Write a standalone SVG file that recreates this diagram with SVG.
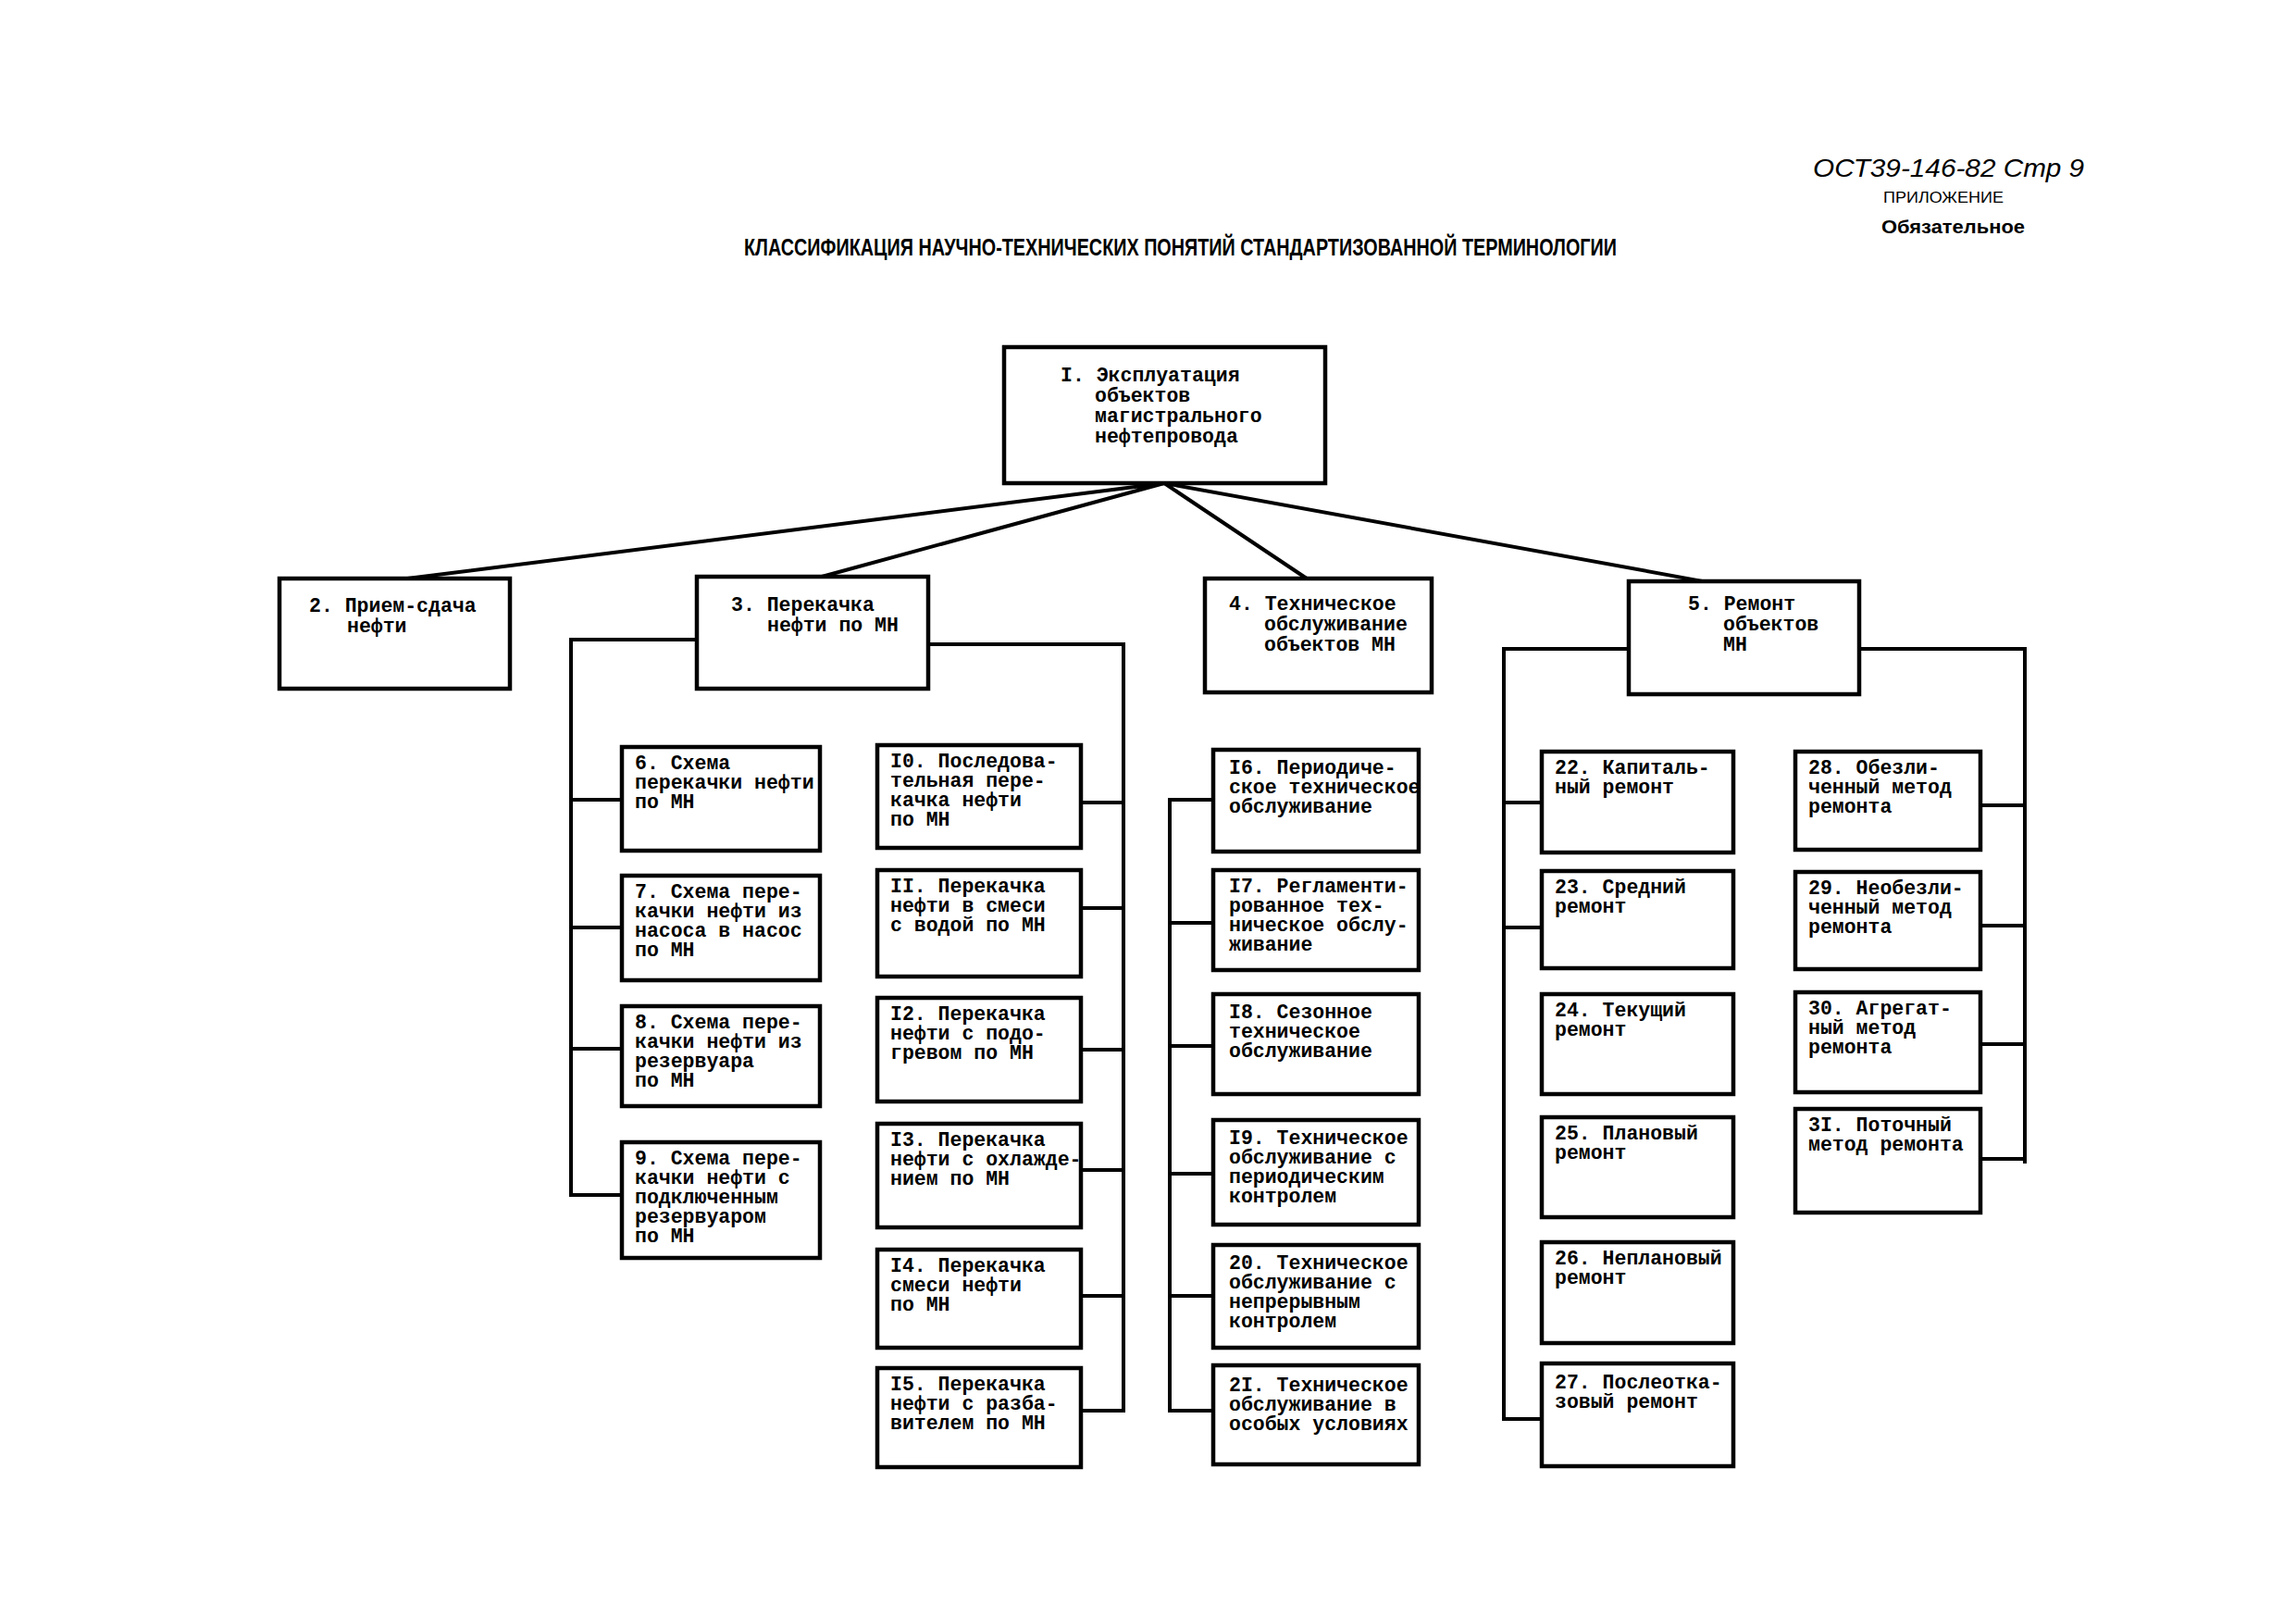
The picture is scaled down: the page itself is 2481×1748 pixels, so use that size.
<svg xmlns="http://www.w3.org/2000/svg" width="2481" height="1748" viewBox="0 0 2481 1748">
<style>
.bg{fill:#fff}
.box{fill:#fff;stroke:#000;stroke-width:4.5}
.c{stroke:#000;stroke-width:4;fill:none;stroke-linecap:square}
.t{font-family:"Liberation Mono","DejaVu Sans Mono",monospace;font-weight:bold;font-size:21.5px;fill:#000}
.h{font-family:"Liberation Sans",Arial,sans-serif;fill:#000}
</style>
<rect class="bg" x="0" y="0" width="2481" height="1748"/>
<g id="header">
<text class="h" x="1959" y="191" font-size="28" font-style="italic" textLength="293" lengthAdjust="spacingAndGlyphs">ОСТ39-146-82 Стр 9</text>
<text class="h" x="2035" y="219" font-size="16" fill="#555" textLength="130" lengthAdjust="spacingAndGlyphs">ПРИЛОЖЕНИЕ</text>
<text class="h" x="2033" y="252" font-size="21" font-weight="bold" textLength="155" lengthAdjust="spacingAndGlyphs">Обязательное</text>
<text class="h" x="804" y="276" font-size="25" font-weight="bold" textLength="943" lengthAdjust="spacingAndGlyphs">КЛАССИФИКАЦИЯ  НАУЧНО-ТЕХНИЧЕСКИХ ПОНЯТИЙ СТАНДАРТИЗОВАННОЙ ТЕРМИНОЛОГИИ</text>
</g>
<g id="connectors">
<path class="c" d="M1258,522 L440,625 M1258,522 L888,623 M1258,522 L1412,625 M1258,522 L1840,628"/>
<path class="c" d="M753,691 H617 V1291 M617,864 H672 M617,1002 H672 M617,1133 H672 M617,1291 H672"/>
<path class="c" d="M1003,696 H1214 V1524 M1214,867 H1168 M1214,981 H1168 M1214,1134 H1168 M1214,1264 H1168 M1214,1400 H1168 M1214,1524 H1168"/>
<path class="c" d="M1264,864 V1524 M1264,864 H1311 M1264,997 H1311 M1264,1130 H1311 M1264,1268 H1311 M1264,1400 H1311 M1264,1524 H1311"/>
<path class="c" d="M1760,701 H1625 V1533 M1625,867 H1666 M1625,1002 H1666 M1625,1533 H1666"/>
<path class="c" d="M2009,701 H2188 V1255 M2188,870 H2140 M2188,1000 H2140 M2188,1128 H2140 M2188,1252 H2140"/>
</g>
<g id="n1"><rect class="box" x="1085" y="375" width="347" height="147"/>
<text class="t"><tspan x="1146" y="412">I. Эксплуатация</tspan><tspan x="1183" y="434">объектов</tspan><tspan x="1183" y="456">магистрального</tspan><tspan x="1183" y="478">нефтепровода</tspan></text></g>
<g id="n2"><rect class="box" x="302" y="625" width="249" height="119"/>
<text class="t"><tspan x="334" y="661">2. Прием-сдача</tspan><tspan x="375" y="683">нефти</tspan></text></g>
<g id="n3"><rect class="box" x="753" y="623" width="250" height="121"/>
<text class="t"><tspan x="790" y="660">3. Перекачка</tspan><tspan x="829" y="682">нефти по МН</tspan></text></g>
<g id="n4"><rect class="box" x="1302" y="625" width="245" height="123"/>
<text class="t"><tspan x="1328" y="659">4. Техническое</tspan><tspan x="1366" y="681">обслуживание</tspan><tspan x="1366" y="703">объектов МН</tspan></text></g>
<g id="n5"><rect class="box" x="1760" y="628" width="249" height="122"/>
<text class="t"><tspan x="1824" y="659">5. Ремонт</tspan><tspan x="1862" y="681">объектов</tspan><tspan x="1862" y="703">МН</tspan></text></g>

<g id="n6"><rect class="box" x="672" y="807" width="214" height="112"/>
<text class="t"><tspan x="686" y="831">6. Схема</tspan><tspan x="686" y="852">перекачки нефти</tspan><tspan x="686" y="873">по МН</tspan></text></g>
<g id="n7"><rect class="box" x="672" y="946" width="214" height="113"/>
<text class="t"><tspan x="686" y="970">7. Схема пере-</tspan><tspan x="686" y="991">качки нефти из</tspan><tspan x="686" y="1012">насоса в насос</tspan><tspan x="686" y="1033">по МН</tspan></text></g>
<g id="n8"><rect class="box" x="672" y="1087" width="214" height="108"/>
<text class="t"><tspan x="686" y="1111">8. Схема пере-</tspan><tspan x="686" y="1132">качки нефти из</tspan><tspan x="686" y="1153">резервуара</tspan><tspan x="686" y="1174">по МН</tspan></text></g>
<g id="n9"><rect class="box" x="672" y="1234" width="214" height="125"/>
<text class="t"><tspan x="686" y="1258">9. Схема пере-</tspan><tspan x="686" y="1279">качки нефти с</tspan><tspan x="686" y="1300">подключенным</tspan><tspan x="686" y="1321">резервуаром</tspan><tspan x="686" y="1342">по МН</tspan></text></g>

<g id="n10"><rect class="box" x="948" y="805" width="220" height="111"/>
<text class="t"><tspan x="962" y="829">I0. Последова-</tspan><tspan x="962" y="850">тельная пере-</tspan><tspan x="962" y="871">качка нефти</tspan><tspan x="962" y="892">по МН</tspan></text></g>
<g id="n11"><rect class="box" x="948" y="940" width="220" height="115"/>
<text class="t"><tspan x="962" y="964">II. Перекачка</tspan><tspan x="962" y="985">нефти в смеси</tspan><tspan x="962" y="1006">с водой по МН</tspan></text></g>
<g id="n12"><rect class="box" x="948" y="1078" width="220" height="112"/>
<text class="t"><tspan x="962" y="1102">I2. Перекачка</tspan><tspan x="962" y="1123">нефти с подо-</tspan><tspan x="962" y="1144">гревом по МН</tspan></text></g>
<g id="n13"><rect class="box" x="948" y="1214" width="220" height="112"/>
<text class="t"><tspan x="962" y="1238">I3. Перекачка</tspan><tspan x="962" y="1259">нефти с охлажде-</tspan><tspan x="962" y="1280">нием по МН</tspan></text></g>
<g id="n14"><rect class="box" x="948" y="1350" width="220" height="106"/>
<text class="t"><tspan x="962" y="1374">I4. Перекачка</tspan><tspan x="962" y="1395">смеси нефти</tspan><tspan x="962" y="1416">по МН</tspan></text></g>
<g id="n15"><rect class="box" x="948" y="1478" width="220" height="107"/>
<text class="t"><tspan x="962" y="1502">I5. Перекачка</tspan><tspan x="962" y="1523">нефти с разба-</tspan><tspan x="962" y="1544">вителем по МН</tspan></text></g>

<g id="n16"><rect class="box" x="1311" y="810" width="222" height="110"/>
<text class="t"><tspan x="1328" y="836">I6. Периодиче-</tspan><tspan x="1328" y="857">ское техническое</tspan><tspan x="1328" y="878">обслуживание</tspan></text></g>
<g id="n17"><rect class="box" x="1311" y="940" width="222" height="108"/>
<text class="t"><tspan x="1328" y="964">I7. Регламенти-</tspan><tspan x="1328" y="985">рованное тех-</tspan><tspan x="1328" y="1006">ническое обслу-</tspan><tspan x="1328" y="1027">живание</tspan></text></g>
<g id="n18"><rect class="box" x="1311" y="1074" width="222" height="108"/>
<text class="t"><tspan x="1328" y="1100">I8. Сезонное</tspan><tspan x="1328" y="1121">техническое</tspan><tspan x="1328" y="1142">обслуживание</tspan></text></g>
<g id="n19"><rect class="box" x="1311" y="1210" width="222" height="113"/>
<text class="t"><tspan x="1328" y="1236">I9. Техническое</tspan><tspan x="1328" y="1257">обслуживание с</tspan><tspan x="1328" y="1278">периодическим</tspan><tspan x="1328" y="1299">контролем</tspan></text></g>
<g id="n20"><rect class="box" x="1311" y="1345" width="222" height="111"/>
<text class="t"><tspan x="1328" y="1371">20. Техническое</tspan><tspan x="1328" y="1392">обслуживание с</tspan><tspan x="1328" y="1413">непрерывным</tspan><tspan x="1328" y="1434">контролем</tspan></text></g>
<g id="n21"><rect class="box" x="1311" y="1475" width="222" height="107"/>
<text class="t"><tspan x="1328" y="1503">2I. Техническое</tspan><tspan x="1328" y="1524">обслуживание в</tspan><tspan x="1328" y="1545">особых условиях</tspan></text></g>

<g id="n22"><rect class="box" x="1666" y="812" width="207" height="109"/>
<text class="t"><tspan x="1680" y="836">22. Капиталь-</tspan><tspan x="1680" y="857">ный ремонт</tspan></text></g>
<g id="n23"><rect class="box" x="1666" y="941" width="207" height="105"/>
<text class="t"><tspan x="1680" y="965">23. Средний</tspan><tspan x="1680" y="986">ремонт</tspan></text></g>
<g id="n24"><rect class="box" x="1666" y="1074" width="207" height="108"/>
<text class="t"><tspan x="1680" y="1098">24. Текущий</tspan><tspan x="1680" y="1119">ремонт</tspan></text></g>
<g id="n25"><rect class="box" x="1666" y="1207" width="207" height="108"/>
<text class="t"><tspan x="1680" y="1231">25. Плановый</tspan><tspan x="1680" y="1252">ремонт</tspan></text></g>
<g id="n26"><rect class="box" x="1666" y="1342" width="207" height="109"/>
<text class="t"><tspan x="1680" y="1366">26. Неплановый</tspan><tspan x="1680" y="1387">ремонт</tspan></text></g>
<g id="n27"><rect class="box" x="1666" y="1473" width="207" height="111"/>
<text class="t"><tspan x="1680" y="1500">27. Послеотка-</tspan><tspan x="1680" y="1521">зовый ремонт</tspan></text></g>

<g id="n28"><rect class="box" x="1940" y="812" width="200" height="106"/>
<text class="t"><tspan x="1954" y="836">28. Обезли-</tspan><tspan x="1954" y="857">ченный метод</tspan><tspan x="1954" y="878">ремонта</tspan></text></g>
<g id="n29"><rect class="box" x="1940" y="942" width="200" height="105"/>
<text class="t"><tspan x="1954" y="966">29. Необезли-</tspan><tspan x="1954" y="987">ченный метод</tspan><tspan x="1954" y="1008">ремонта</tspan></text></g>
<g id="n30"><rect class="box" x="1940" y="1072" width="200" height="108"/>
<text class="t"><tspan x="1954" y="1096">30. Агрегат-</tspan><tspan x="1954" y="1117">ный метод</tspan><tspan x="1954" y="1138">ремонта</tspan></text></g>
<g id="n31"><rect class="box" x="1940" y="1198" width="200" height="112"/>
<text class="t"><tspan x="1954" y="1222">3I. Поточный</tspan><tspan x="1954" y="1243">метод ремонта</tspan></text></g>
</svg>
